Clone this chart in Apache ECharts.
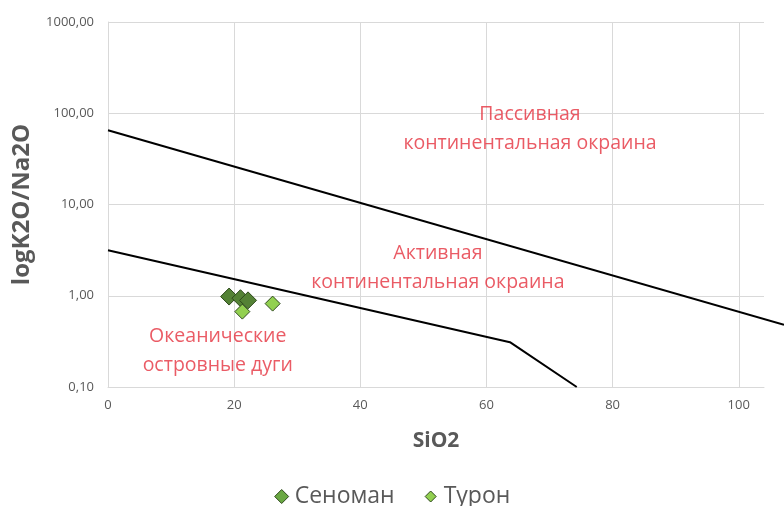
<!DOCTYPE html>
<html>
<head>
<meta charset="utf-8">
<script src="https://cdn.jsdelivr.net/npm/echarts@6/dist/echarts.min.js"></script>
<style>
  html, body { margin: 0; padding: 0; background: #fff; }
  #chart { width: 784px; height: 506px; }
</style>
</head>
<body>
<div id="chart"></div>
<script>
// data points, [SiO2, K2O/Na2O]
const cenoman = [[19.2, 0.98], [21.0, 0.94], [22.2, 0.89]];
const turon = [[21.3, 0.67], [26.1, 0.82]];

// field boundaries
const upperBoundary = [[0, 65], [107.3, 0.48]];
const lowerBoundary = [[0, 3.15], [63.8, 0.31], [74.4, 0.1]];

// field captions, placed at data coordinates
const fieldLabels = [
  { value: [66.9, 68], text: 'Пассивная\nконтинентальная окраина' },
  { value: [52.3, 2.0], text: 'Активная\nконтинентальная окраина' },
  { value: [17.4, 0.25], text: 'Океанические\nостровные дуги' }
];

const xTicks = [0, 20, 40, 60, 80, 100];
const yMin = 0.1, yMax = 1000;
const xMax = 104;
const xMaxCanvas = 107.3; // right edge of the picture, lines run up to it

const colors = {
  grid: '#d9d9d9',
  text: '#595959',
  red: '#e5323f',
  cenoman: '#548235',
  turon: '#92d050',
  edge: '#2e4a1c'
};

const diamond = (size, r, fill) =>
  'image://data:image/svg+xml;utf8,' + encodeURIComponent(
    `<svg xmlns="http://www.w3.org/2000/svg" width="${size}" height="${size}">` +
    `<polygon points="${size/2},${size/2 - r} ${size/2 + r},${size/2} ${size/2},${size/2 + r} ${size/2 - r},${size/2}" fill="${fill}" stroke="${colors.edge}" stroke-width="1"/></svg>`
  );

const chart = echarts.init(document.getElementById('chart'));

const option = {
  backgroundColor: '#fff',
  animation: false,
  grid: [
    { left: 108, right: 20, top: 22, bottom: 119, containLabel: false },
    // same scale, stretched to the picture edge, for the boundary lines
    { left: 108, right: 0, top: 22, bottom: 119, containLabel: false }
  ],
  legend: {
    top: 480,
    left: 'center',
    itemWidth: 16,
    itemHeight: 16,
    itemGap: 28,
    textStyle: { color: colors.text, fontSize: 23, fontFamily: 'Open Sans' },
    data: [
      { name: 'Сеноман', icon: diamond(16, 7, '#6aa843') },
      { name: 'Турон', icon: diamond(16, 5.5, colors.turon) }
    ]
  },
  xAxis: [
    {
      type: 'value',
      gridIndex: 0,
      min: 0,
      max: xMax,
      interval: 20,
      name: 'SiO2',
      nameLocation: 'middle',
      nameGap: 44,
      nameTextStyle: { color: colors.text, fontSize: 21, fontWeight: 'bold', fontFamily: 'Open Sans' },
      axisLine: { show: true, lineStyle: { color: colors.grid, width: 1 } },
      axisTick: { show: false },
      axisLabel: {
        color: colors.text,
        fontSize: 13,
        fontFamily: 'Open Sans',
        margin: 12,
        formatter: v => (xTicks.includes(v) ? String(v) : '')
      },
      splitLine: {
        show: true,
        lineStyle: {
          width: 1,
          color: xTicks.map(() => colors.grid).concat(['rgba(0,0,0,0)'])
        }
      }
    },
    {
      type: 'value',
      gridIndex: 1,
      min: 0,
      max: xMaxCanvas,
      show: false
    }
  ],
  yAxis: [
    {
      type: 'log',
      gridIndex: 0,
      logBase: 10,
      min: yMin,
      max: yMax,
      name: 'logK2O/Na2O',
      nameLocation: 'middle',
      nameGap: 74,
      nameTextStyle: { color: colors.text, fontSize: 24, fontWeight: 'bold', fontFamily: 'Open Sans' },
      axisLine: { show: true, lineStyle: { color: colors.grid, width: 1 } },
      axisTick: { show: false },
      axisLabel: {
        color: colors.text,
        fontSize: 13,
        fontFamily: 'Open Sans',
        margin: 14,
        formatter: v => Number(v).toFixed(2).replace('.', ',')
      },
      splitLine: { show: true, lineStyle: { color: colors.grid, width: 1 } }
    },
    {
      type: 'log',
      gridIndex: 1,
      logBase: 10,
      min: yMin,
      max: yMax,
      show: false
    }
  ],
  series: [
    {
      name: 'upper',
      type: 'line',
      xAxisIndex: 1,
      yAxisIndex: 1,
      data: upperBoundary,
      showSymbol: false,
      silent: true,
      lineStyle: { color: '#000', width: 2 },
      z: 3
    },
    {
      name: 'lower',
      type: 'line',
      xAxisIndex: 1,
      yAxisIndex: 1,
      data: lowerBoundary,
      showSymbol: false,
      silent: true,
      lineStyle: { color: '#000', width: 2 },
      z: 3
    },
    {
      name: 'fields',
      type: 'scatter',
      symbolSize: 0,
      silent: true,
      data: fieldLabels.map(d => ({
        value: d.value,
        label: {
          show: true,
          position: 'inside',
          formatter: d.text,
          color: colors.red,
          fontSize: 19.5,
          lineHeight: 29,
          align: 'center',
          fontFamily: 'Open Sans'
        }
      }))
    },
    {
      name: 'Сеноман',
      type: 'scatter',
      data: cenoman,
      symbol: 'diamond',
      symbolSize: 17,
      itemStyle: { color: colors.cenoman, borderColor: colors.edge, borderWidth: 1, opacity: 1 },
      z: 5
    },
    {
      name: 'Турон',
      type: 'scatter',
      data: turon,
      symbol: 'diamond',
      symbolSize: 15,
      itemStyle: { color: colors.turon, borderColor: colors.edge, borderWidth: 1, opacity: 1 },
      z: 6
    }
  ]
};

chart.setOption(option);
window.addEventListener('resize', () => chart.resize());
</script>
</body>
</html>
